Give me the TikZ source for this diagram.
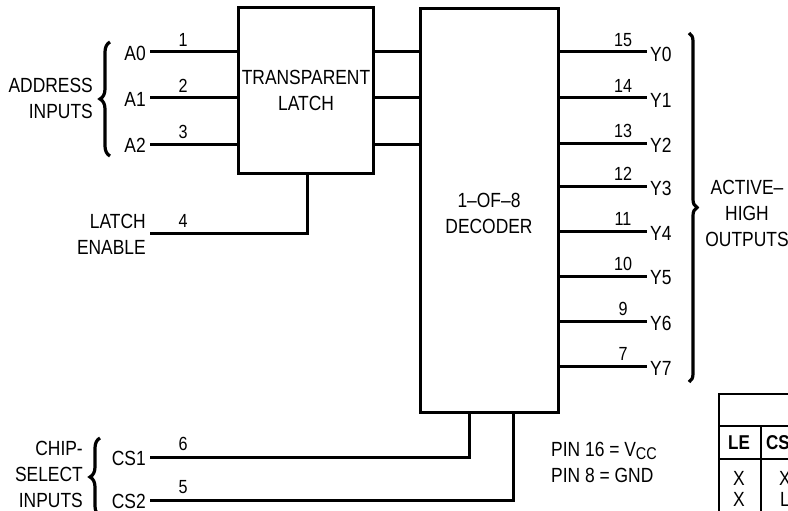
\documentclass[tikz,border=0pt]{standalone}
\usepackage{fontspec}
\setmainfont{Liberation Sans}[FakeStretch=0.85]
\usetikzlibrary{decorations.pathreplacing}
\begin{document}
\begin{tikzpicture}[x=1pt,y=-1pt,
  wire/.style={line width=3pt},
  box/.style={draw,line width=3pt,inner sep=0pt},
  lbl/.style={font=\fontsize{20.5}{26}\selectfont,inner sep=1pt},
  pinno/.style={font=\fontsize{19}{20}\selectfont,inner sep=0pt},
  brc/.style={decorate,decoration={brace,amplitude=10pt},line width=3.2pt},
  tbl/.style={line width=1.8pt}]
\useasboundingbox (0,0) rectangle (788,511);
\clip (0,0) rectangle (788,511);
% blocks
\node[box,minimum width=135pt,minimum height=165pt] (latch) at (305.5,90.5) {};
\node[lbl,align=center] (latchtxt) at (306,90) {TRANSPARENT\\LATCH};
\node[box,minimum width=138pt,minimum height=403pt] (dec) at (489,210.5) {};
\node[lbl,align=center] (dectxt) at (489,213) {1–OF–8\\DECODER};
% address inputs
\foreach \i/\y/\p in {0/52/1,1/98/2,2/144/3}{
  \coordinate (a\i) at (150,\y);
  \node[lbl,anchor=east] (la\i) at (147,\y+1) {A\i};
  \node[pinno] (pa\i) at (183,\y-12) {\p};
  \draw[wire] (a\i) -- (a\i -| latch.west);
  \draw[wire] (a\i -| latch.east) -- (a\i -| dec.west);
}
\draw[brc] (110,156) -- (110,42);
\node[lbl,align=right,anchor=east] (addr) at (94,98) {ADDRESS\\INPUTS};
% latch enable
\coordinate (le) at (150,233);
\coordinate (leup) at (307,233);
\draw[wire] (le) -- (leup) -- (leup |- latch.south);
\node[pinno] (p4) at (183,221) {4};
\node[lbl,align=right,anchor=east] (lelbl) at (147,234) {LATCH\\ENABLE};
% outputs
\foreach \i/\y/\p in {0/52/15,1/98/14,2/143/13,3/186/12,4/231/11,5/276/10,6/321/9,7/366/7}{
  \coordinate (y\i) at (647,\y);
  \draw[wire] (y\i -| dec.east) -- (y\i);
  \node[lbl,anchor=west] (ly\i) at (649,\y+2) {Y\i};
  \node[pinno] (py\i) at (623,\y-12) {\p};
}
\draw[brc,decoration={amplitude=8pt}] (689,33) -- (689,382);
\node[lbl,align=center] (outlbl) at (747,213) {ACTIVE–\\HIGH\\OUTPUTS};
% chip select
\coordinate (cs1) at (150,457);
\coordinate (cs1up) at (469,457);
\coordinate (cs2) at (150,500);
\coordinate (cs2up) at (513,500);
\draw[wire] (cs1) -- (cs1up) -- (cs1up |- dec.south);
\draw[wire] (cs2) -- (cs2up) -- (cs2up |- dec.south);
\node[lbl,anchor=east] (lcs1) at (147,458) {CS1};
\node[lbl,anchor=east] (lcs2) at (147,501) {CS2};
\node[pinno] (p6) at (183,444) {6};
\node[pinno] (p5) at (183,487) {5};
\draw[brc] (100,516) -- (100,438);
\node[lbl,align=right,anchor=east] (cslbl) at (84,474) {CHIP-\\SELECT\\INPUTS};
% power pins
\node[lbl,align=left,anchor=west] (pwr) at (550,462) {PIN 16 = V\raisebox{-3.5pt}{\fontsize{17}{18}\selectfont CC}\\PIN 8 = GND};
% truth table (partly visible)
\node[draw,tbl,minimum width=120pt,minimum height=140pt,anchor=north west,inner sep=0pt] (tt) at (718,393) {};
\coordinate (r1) at (718,426);
\coordinate (r2) at (718,459);
\coordinate (c1) at (761,426);
\draw[tbl] (r1) -- (r1 -| tt.east);
\draw[tbl] (r2) -- (r2 -| tt.east);
\draw[tbl] (c1) -- (c1 |- tt.south);
\node[lbl,font=\fontsize{20}{22}\selectfont\bfseries] (hle) at (739,443) {LE};
\node[lbl,font=\fontsize{20}{22}\selectfont\bfseries,anchor=west] (hcs) at (765,443) {CS1};
\node[lbl] (t11) at (739,478) {X};
\node[lbl] (t21) at (739,499) {X};
\node[lbl] (t12) at (785,478) {X};
\node[lbl] (t22) at (785,499) {L};
\end{tikzpicture}
\end{document}
